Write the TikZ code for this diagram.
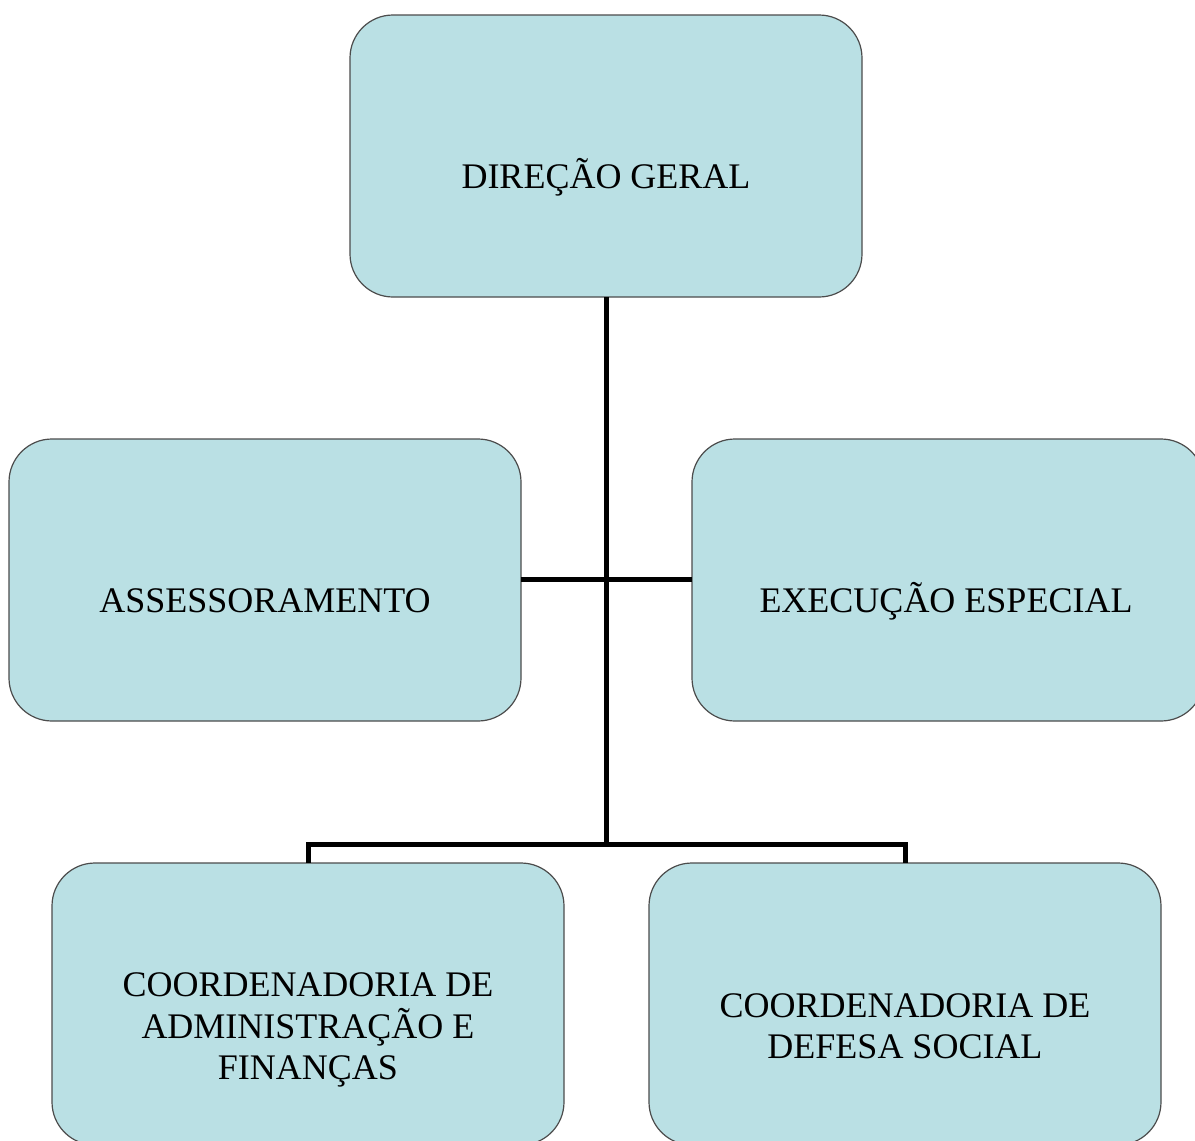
\documentclass[tikz,border=0pt]{standalone}
\usepackage{fontspec}
\setmainfont{Liberation Serif}
\begin{document}
\begin{tikzpicture}[x=1pt,y=-1pt,
  box/.style={draw=black!70, line width=1.2pt, fill=boxfill, rounded corners=43pt,
    minimum width=512pt, minimum height=282pt, inner sep=0pt, outer sep=0pt},
  lbl/.style={align=center, font=\fontsize{36}{41.5}\selectfont, inner sep=0pt},
  conn/.style={draw=black, line width=5pt, line join=miter}]
\definecolor{boxfill}{RGB}{186,224,228}
\useasboundingbox (0,0) rectangle (1195,1141);
\fill[white] (0,0) rectangle (1195,1141);
\clip (0,0) rectangle (1195,1141);
% boxes
\node[box] (top) at (606,156) {};
\node[box] (assess) at (265,580) {};
\node[box] (exec) at (948,580) {};
\node[box] (cadm) at (308,1004) {};
\node[box] (cdef) at (905,1004) {};
% connectors
\coordinate (j) at (606,844);
\draw[conn] (top.south) -- (j);
\draw[conn] (assess.east |- 0,579) -- (exec.west |- 0,579);
\draw[conn] (cadm.north) |- (j) -| (cdef.north);
% labels
\node[lbl] (ttop) at (606,177) {DIREÇÃO GERAL};
\node[lbl] (tassess) at (265,601) {ASSESSORAMENTO};
\node[lbl] (texec) at (946,601) {EXECUÇÃO ESPECIAL};
\node[lbl] (tcadm) at (308,1030) {COORDENADORIA DE\\ADMINISTRAÇÃO E\\FINANÇAS};
\node[lbl] (tcdef) at (905,1026) {COORDENADORIA DE\\DEFESA SOCIAL};
\end{tikzpicture}
\end{document}
